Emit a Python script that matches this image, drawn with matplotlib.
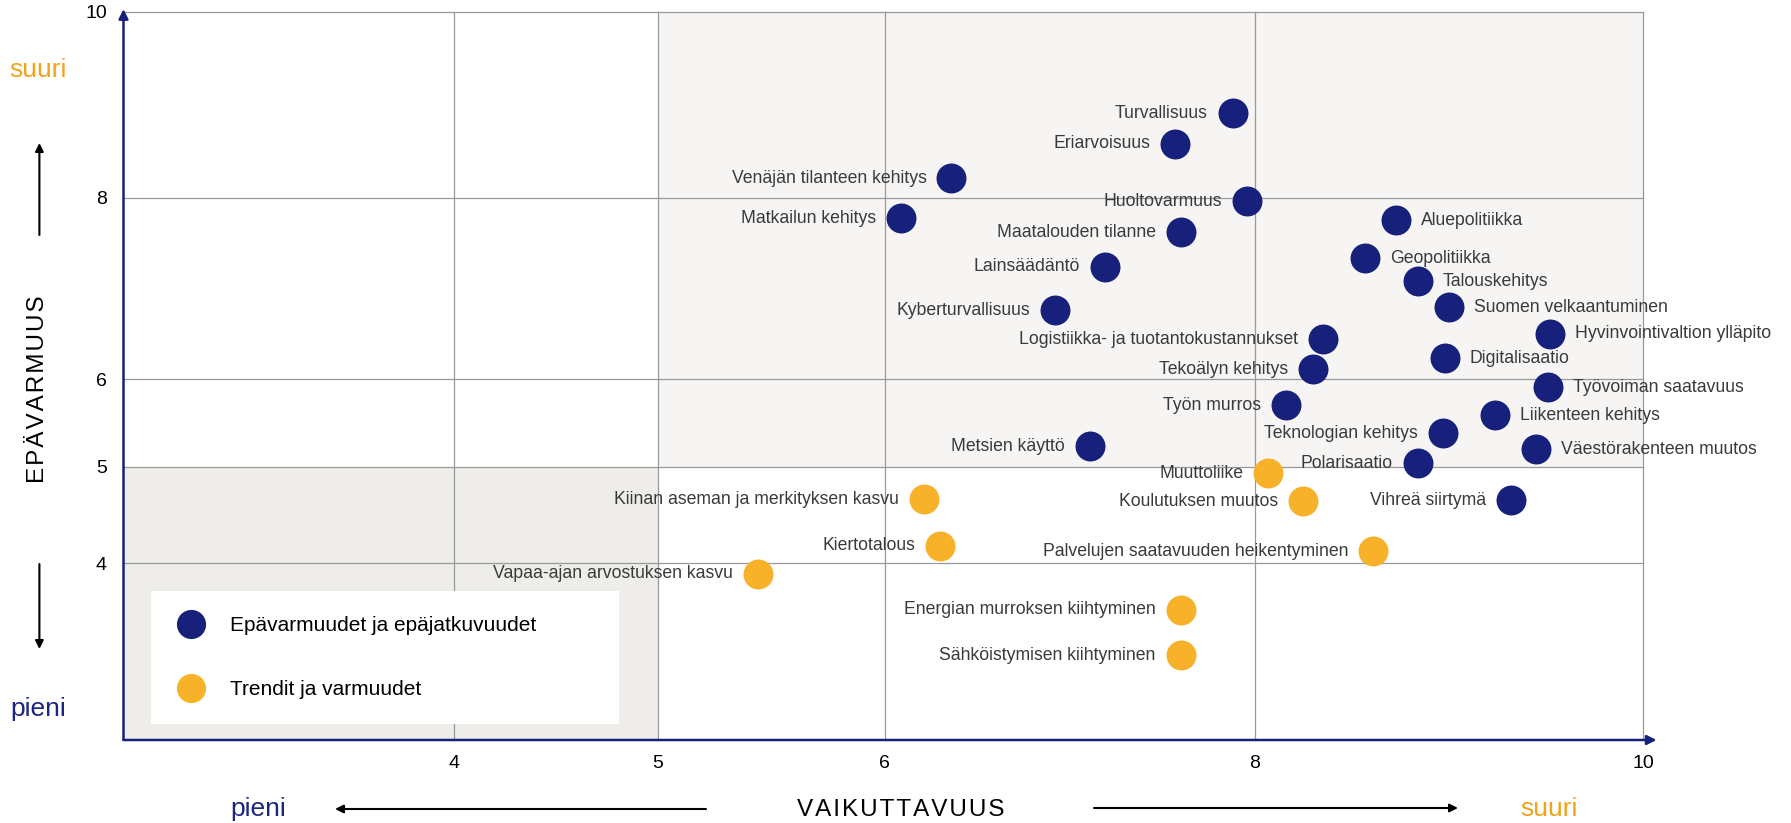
import numpy as np
import matplotlib
matplotlib.use("Agg")
import matplotlib.pyplot as plt
from matplotlib.lines import Line2D

plt.rcParams['font.family'] = ['Liberation Sans', 'DejaVu Sans']

# --- data -----------------------------------------------------------------
blue_names = ['Turvallisuus', 'Eriarvoisuus', 'Venäjän tilanteen kehitys', 'Huoltovarmuus',
              'Matkailun kehitys', 'Aluepolitiikka', 'Maatalouden tilanne', 'Geopolitiikka',
              'Lainsäädäntö', 'Talouskehitys', 'Suomen velkaantuminen', 'Kyberturvallisuus',
              'Hyvinvointivaltion ylläpito', 'Logistiikka- ja tuotantokustannukset',
              'Digitalisaatio', 'Tekoälyn kehitys', 'Työvoiman saatavuus', 'Työn murros',
              'Liikenteen kehitys', 'Teknologian kehitys', 'Metsien käyttö',
              'Väestörakenteen muutos', 'Polarisaatio', 'Vihreä siirtymä']
blue_x = [7.88, 7.57, 6.36, 7.96, 6.09, 8.73, 7.60, 8.57, 7.19, 8.84, 9.00, 6.92,
          9.52, 8.35, 8.98, 8.30, 9.51, 8.16, 9.24, 8.97, 7.11, 9.45, 8.84, 9.32]
blue_y = [8.91, 8.58, 8.21, 7.96, 7.77, 7.75, 7.62, 7.33, 7.24, 7.08, 6.79, 6.76,
          6.50, 6.44, 6.23, 6.11, 5.91, 5.70, 5.59, 5.38, 5.23, 5.20, 5.04, 4.65]

orange_names = ['Muuttoliike', 'Kiinan aseman ja merkityksen kasvu', 'Koulutuksen muutos',
                'Kiertotalous', 'Palvelujen saatavuuden heikentyminen',
                'Vapaa-ajan arvostuksen kasvu', 'Energian murroksen kiihtyminen',
                'Sähköistymisen kiihtyminen']
orange_x = [8.07, 6.21, 8.25, 6.30, 8.61, 5.44, 7.60, 7.60]
orange_y = [4.93, 4.66, 4.64, 4.18, 4.12, 3.88, 3.47, 2.96]

x_ticks = [4, 5, 6, 8, 10]
y_ticks = [4, 5, 6, 8, 10]

# labels drawn to the right of the point (all others go left)
right_labels = {'Aluepolitiikka', 'Geopolitiikka', 'Talouskehitys', 'Suomen velkaantuminen',
                'Hyvinvointivaltion ylläpito', 'Digitalisaatio', 'Työvoiman saatavuus',
                'Liikenteen kehitys', 'Väestörakenteen muutos'}

# the original axes are not evenly spaced -> piecewise linear scales
X_VALS = [2.3, 4, 5, 6, 8, 10]
X_POS = [0, 330.8, 534.3, 761.3, 1131.2, 1519.4]
Y_VALS = [2, 4, 5, 6, 8, 10]
Y_POS = [0, 177, 273.5, 360.7, 542.5, 728]

NAVY = '#17207a'
ORANGE = '#f7b22a'
TXT = '#3a3a3a'
HAIR = '\u200a'

W, H = 1791, 823
fig = plt.figure(figsize=(W / 100, H / 100), dpi=100)
ax = fig.add_axes([123.5 / W, 1 - 740 / H, 1519.4 / W, 728 / H])

ax.set_xscale('function', functions=(lambda v: np.interp(v, X_VALS, X_POS),
                                     lambda p: np.interp(p, X_POS, X_VALS)))
ax.set_yscale('function', functions=(lambda v: np.interp(v, Y_VALS, Y_POS),
                                     lambda p: np.interp(p, Y_POS, Y_VALS)))
ax.set_xlim(X_VALS[0], 10)
ax.set_ylim(2, 10)

# shaded quadrants
ax.fill_between([5, 10], 5, 10, color='#f6f5f3', zorder=0, lw=0)
ax.fill_between([X_VALS[0], 5], 2, 5, color='#eeede9', zorder=0, lw=0)

ax.set_xticks(x_ticks)
ax.set_yticks(y_ticks)
ax.set_axisbelow(True)
ax.grid(True, color='#999999', lw=0.9)
for gl in ax.get_xgridlines() + ax.get_ygridlines():
    gl.set_clip_on(False)
ax.tick_params(length=0, labelsize=14, colors='black')
ax.tick_params(axis='x', pad=11)
ax.tick_params(axis='y', pad=12)
for s in ax.spines.values():
    s.set_visible(False)

# axes with arrow heads
ax.annotate('', xy=(1.009, 0), xytext=(0, 0), xycoords='axes fraction',
            arrowprops=dict(arrowstyle='-|>', color=NAVY, lw=1.8, mutation_scale=14,
                            shrinkA=0, shrinkB=0), annotation_clip=False)
ax.annotate('', xy=(0, 1.004), xytext=(0, 0), xycoords='axes fraction',
            arrowprops=dict(arrowstyle='-|>', color=NAVY, lw=1.8, mutation_scale=14,
                            shrinkA=0, shrinkB=0), annotation_clip=False)

ax.scatter(blue_x, blue_y, s=465, color=NAVY, zorder=3, lw=0)
ax.scatter(orange_x, orange_y, s=465, color=ORANGE, zorder=3, lw=0)

for names, xs, ys in [(blue_names, blue_x, blue_y), (orange_names, orange_x, orange_y)]:
    for n, x, y in zip(names, xs, ys):
        right = n in right_labels
        ax.annotate(n, (x, y), xytext=(18 if right else -18, 0), textcoords='offset points',
                    ha='left' if right else 'right', va='center', fontsize=12.7, color=TXT,
                    zorder=4)

# legend
handles = [Line2D([], [], marker='o', ls='', color=NAVY, markersize=21, mew=0),
           Line2D([], [], marker='o', ls='', color=ORANGE, markersize=21, mew=0)]
leg = ax.legend(handles, ['Epävarmuudet ja epäjatkuvuudet', 'Trendit ja varmuudet'],
                loc='upper left', bbox_to_anchor=(151 / W, 1 - 591 / H - 0.01, 468 / W, 0.01),
                bbox_transform=fig.transFigure, mode='expand', fontsize=15,
                frameon=True, fancybox=False, framealpha=1, facecolor='white',
                edgecolor='none', borderpad=1.2, handlelength=1.4, handletextpad=1.2,
                labelspacing=2.15, borderaxespad=0)
leg.set_zorder(5)

# outer annotations
def fx(p):
    return p / W

def fy(p):
    return 1 - p / H

fig.text(fx(38), fy(77), 'suuri', color='#f0a31b', fontsize=19, ha='center', va='baseline')
fig.text(fx(38), fy(716), 'pieni', color='#1a2680', fontsize=19, ha='center', va='baseline')
fig.text(fx(38), fy(389), HAIR.join('EPÄVARMUUS'), rotation=90, fontsize=17.5,
         ha='center', va='center')
fig.text(fx(258), fy(816), 'pieni', color='#1a2680', fontsize=19, ha='center', va='baseline')
fig.text(fx(1549), fy(816), 'suuri', color='#f0a31b', fontsize=19, ha='center', va='baseline')
fig.text(fx(901), fy(816), HAIR.join('VAIKUTTAVUUS'), fontsize=17.5, ha='center',
         va='baseline')

arrow = dict(arrowstyle='-|>', color='black', lw=1.5, mutation_scale=12, shrinkA=0, shrinkB=0)
fig.add_artist(plt.Annotation('', xy=(fx(39.4), fy(143)), xytext=(fx(39.4), fy(235)),
                              xycoords='figure fraction', arrowprops=arrow))
fig.add_artist(plt.Annotation('', xy=(fx(39.4), fy(649)), xytext=(fx(39.4), fy(564)),
                              xycoords='figure fraction', arrowprops=arrow))
fig.add_artist(plt.Annotation('', xy=(fx(335), fy(809)), xytext=(fx(706), fy(809)),
                              xycoords='figure fraction', arrowprops=arrow))
fig.add_artist(plt.Annotation('', xy=(fx(1458), fy(808)), xytext=(fx(1094), fy(808)),
                              xycoords='figure fraction', arrowprops=arrow))

fig.savefig('out.png', dpi=100)
